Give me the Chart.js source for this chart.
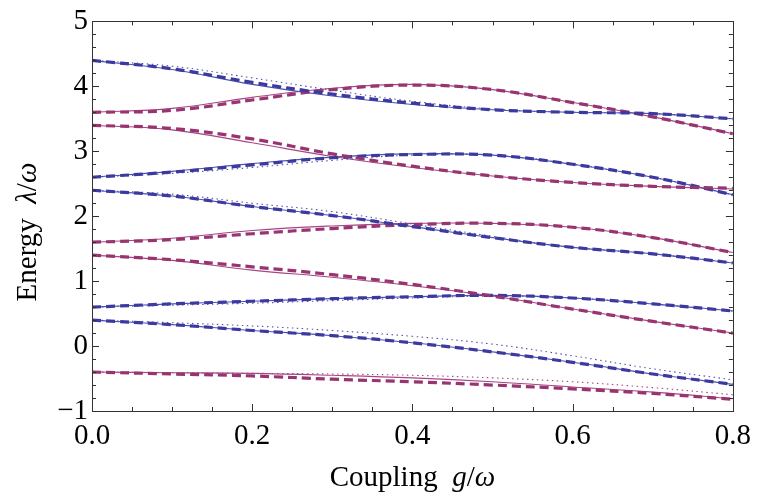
<!DOCTYPE html>
<html>
<head>
<meta charset="utf-8">
<script src="https://cdn.jsdelivr.net/npm/chart.js@4.4.0/dist/chart.umd.min.js"></script>
<style>
html,body{margin:0;padding:0;background:#fff;}
canvas{display:block;}
</style>
</head>
<body>
<canvas id="c" width="759" height="501"></canvas>
<script>
// coupling values g/ω
const gValues = [0, 0.1, 0.2, 0.3, 0.4, 0.5, 0.6, 0.7, 0.8];

// level A (blue, starts at 4.4)
const levelA_dashed = [4.40, 4.27, 4.06, 3.88, 3.74, 3.64, 3.60, 3.58, 3.50];
const levelA_solid  = [4.40, 4.26, 4.03, 3.85, 3.72, 3.64, 3.60, 3.58, 3.50];
const levelA_dotted = [4.40, 4.31, 4.13, 3.94, 3.77, 3.65, 3.60, 3.58, 3.50];
// level B (magenta, starts at 3.6)
const levelB_dashed = [3.60, 3.63, 3.79, 3.95, 4.02, 3.95, 3.75, 3.53, 3.27];
const levelB_solid  = [3.60, 3.66, 3.83, 3.97, 4.03, 3.95, 3.75, 3.53, 3.27];
// level C (magenta, starts at 3.4)
const levelC_dashed = [3.40, 3.35, 3.19, 2.96, 2.77, 2.62, 2.52, 2.46, 2.43];
const levelC_solid  = [3.40, 3.33, 3.13, 2.92, 2.75, 2.62, 2.52, 2.46, 2.42];
// level D (blue, starts at 2.6)
const levelD_dashed = [2.60, 2.68, 2.79, 2.90, 2.95, 2.94, 2.80, 2.60, 2.33];
const levelD_solid  = [2.60, 2.69, 2.81, 2.91, 2.96, 2.94, 2.80, 2.60, 2.33];
const levelD_dotted = [2.60, 2.66, 2.75, 2.86, 2.94, 2.94, 2.80, 2.60, 2.33];
// level E (blue, starts at 2.4)
const levelE_dashed = [2.40, 2.31, 2.15, 2.01, 1.84, 1.67, 1.52, 1.42, 1.28];
const levelE_solid  = [2.40, 2.31, 2.15, 2.01, 1.84, 1.67, 1.52, 1.42, 1.28];
const levelE_dotted = [2.40, 2.34, 2.20, 2.07, 1.88, 1.69, 1.52, 1.42, 1.28];
// level F (magenta, starts at 1.6)
const levelF_dashed = [1.60, 1.64, 1.73, 1.81, 1.87, 1.89, 1.83, 1.67, 1.44];
const levelF_solid  = [1.60, 1.66, 1.78, 1.85, 1.89, 1.89, 1.83, 1.67, 1.44];
// level G (magenta, starts at 1.4)
const levelG_dashed = [1.40, 1.33, 1.22, 1.10, 0.95, 0.77, 0.57, 0.38, 0.20];
const levelG_solid  = [1.40, 1.32, 1.17, 1.06, 0.93, 0.77, 0.57, 0.38, 0.20];
// level H (blue, starts at 0.6)
const levelH_dashed = [0.60, 0.65, 0.69, 0.73, 0.76, 0.78, 0.74, 0.65, 0.54];
const levelH_solid  = [0.60, 0.65, 0.69, 0.73, 0.76, 0.78, 0.74, 0.65, 0.54];
const levelH_dotted = [0.60, 0.63, 0.66, 0.70, 0.74, 0.77, 0.74, 0.65, 0.54];
// level I (blue, starts at 0.4)
const levelI_dashed = [0.40, 0.33, 0.24, 0.16, 0.05, -0.09, -0.25, -0.43, -0.59];
const levelI_solid  = [0.40, 0.33, 0.24, 0.16, 0.05, -0.09, -0.25, -0.43, -0.59];
const levelI_dotted = [0.40, 0.36, 0.31, 0.24, 0.15, 0.03, -0.15, -0.35, -0.52];
// level J (magenta, starts at -0.4)
const levelJ_dashed = [-0.40, -0.43, -0.46, -0.51, -0.55, -0.60, -0.66, -0.73, -0.82];
const levelJ_solid  = [-0.40, -0.41, -0.42, -0.45, -0.49, -0.55, -0.63, -0.71, -0.81];
const levelJ_dotted = [-0.40, -0.41, -0.42, -0.43, -0.45, -0.49, -0.55, -0.64, -0.75];

const xTickValues = [0, 0.2, 0.4, 0.6, 0.8];
const yTickValues = [-1, 0, 1, 2, 3, 4, 5];

const BLUE = 'rgb(58,58,160)';
const MAG = 'rgb(152,52,112)';
const BLUE_THIN = 'rgb(80,80,175)';
const MAG_THIN = 'rgb(165,70,130)';

function pts(arr){ return gValues.map((g,i)=>({x:g, y:arr[i]})); }
const datasets = [];
function addDashed(arr,color){ datasets.push({data:pts(arr),borderColor:color,borderWidth:3.2,borderDash:[9,5],order:0,tension:0.4,pointRadius:0,fill:false}); }
function addSolid(arr,color){ datasets.push({data:pts(arr),borderColor:color,borderWidth:1.1,order:2,tension:0.4,pointRadius:0,fill:false}); }
function addDotted(arr,color){ datasets.push({data:pts(arr),borderColor:color,borderWidth:1.1,borderDash:[1.5,3.5],order:1,tension:0.4,pointRadius:0,fill:false}); }

addSolid(levelA_solid,BLUE_THIN); addDotted(levelA_dotted,BLUE_THIN); addDashed(levelA_dashed,BLUE);
addSolid(levelB_solid,MAG_THIN); addDashed(levelB_dashed,MAG);
addSolid(levelC_solid,MAG_THIN); addDashed(levelC_dashed,MAG);
addSolid(levelD_solid,BLUE_THIN); addDotted(levelD_dotted,BLUE_THIN); addDashed(levelD_dashed,BLUE);
addSolid(levelE_solid,BLUE_THIN); addDotted(levelE_dotted,BLUE_THIN); addDashed(levelE_dashed,BLUE);
addSolid(levelF_solid,MAG_THIN); addDashed(levelF_dashed,MAG);
addSolid(levelG_solid,MAG_THIN); addDashed(levelG_dashed,MAG);
addSolid(levelH_solid,BLUE_THIN); addDotted(levelH_dotted,BLUE_THIN); addDashed(levelH_dashed,BLUE);
addSolid(levelI_solid,BLUE_THIN); addDotted(levelI_dotted,BLUE_THIN); addDashed(levelI_dashed,BLUE);
addSolid(levelJ_solid,MAG_THIN); addDotted(levelJ_dotted,MAG_THIN); addDashed(levelJ_dashed,MAG);

const FONT = '"Liberation Serif", "Times New Roman", serif';

const framePlugin = {
  id:'frame',
  afterDatasetsDraw(chart){
    const ctx = chart.ctx, a = chart.chartArea;
    const xs = chart.scales.x, ys = chart.scales.y;
    ctx.save();
    ctx.strokeStyle = '#333';
    ctx.lineWidth = 1;
    ctx.strokeRect(Math.round(a.left)+0.5, Math.round(a.top)+0.5, Math.round(a.right-a.left), Math.round(a.bottom-a.top));
    ctx.beginPath();
    for (let i=0;i<=16;i++){
      const v = i*0.05;
      const px = Math.round(xs.getPixelForValue(v))+0.5;
      const len = (i%4===0)?7:4;
      ctx.moveTo(px,a.bottom); ctx.lineTo(px,a.bottom-len);
      ctx.moveTo(px,a.top); ctx.lineTo(px,a.top+len);
    }
    for (let i=0;i<=30;i++){
      const v = -1 + i*0.2;
      const py = Math.round(ys.getPixelForValue(v))+0.5;
      const len = (i%5===0)?7:4;
      ctx.moveTo(a.left,py); ctx.lineTo(a.left+len,py);
      ctx.moveTo(a.right,py); ctx.lineTo(a.right-len,py);
    }
    ctx.stroke();
    ctx.restore();
  },
  afterDraw(chart){
    const ctx = chart.ctx, a = chart.chartArea;
    ctx.save();
    ctx.fillStyle = '#000';
    ctx.textBaseline = 'alphabetic';
    const size = 29;
    function drawParts(parts, cx, cy){
      let w = 0;
      parts.forEach(p=>{ ctx.font = (p[1]?'italic ':'') + size + 'px ' + FONT; p.w = ctx.measureText(p[0]).width; w += p.w; });
      let x = cx - w/2;
      parts.forEach(p=>{ ctx.font = (p[1]?'italic ':'') + size + 'px ' + FONT; ctx.fillText(p[0], x, cy); x += p.w; });
    }
    drawParts([['Coupling  ',false],['g',true],['/',false],['ω',true]], (a.left+a.right)/2, 486);
    ctx.translate(36, 232);
    ctx.rotate(-Math.PI/2);
    drawParts([['Energy  ',false],['λ',true],['/',false],['ω',true]], 0, 0);
    ctx.restore();
  }
};

new Chart(document.getElementById('c'), {
  type:'line',
  data:{datasets},
  options:{
    responsive:false,
    animation:false,
    devicePixelRatio:1,
    layout:{padding:{top:14,right:24,left:0,bottom:0}},
    plugins:{legend:{display:false},tooltip:{enabled:false}},
    elements:{point:{radius:0}},
    scales:{
      x:{
        type:'linear', min:0, max:0.8,
        afterFit(s){ s.height = 90; },
        afterBuildTicks(s){ s.ticks = xTickValues.map(v=>({value:v})); },
        grid:{display:false, drawTicks:false},
        border:{display:false},
        ticks:{padding:8, color:'#000', font:{family:FONT,size:29}, callback:v=>Number(v).toFixed(1), maxRotation:0, autoSkip:false}
      },
      y:{
        type:'linear', min:-1, max:5,
        afterFit(s){ s.width = 92; },
        afterBuildTicks(s){ s.ticks = yTickValues.map(v=>({value:v})); },
        grid:{display:false, drawTicks:false},
        border:{display:false},
        ticks:{padding:4, color:'#000', font:{family:FONT,size:29}, callback:v=> v<0 ? '\u2212'+Math.abs(v) : String(v), autoSkip:false}
      }
    }
  },
  plugins:[framePlugin]
});
</script>
</body>
</html>
